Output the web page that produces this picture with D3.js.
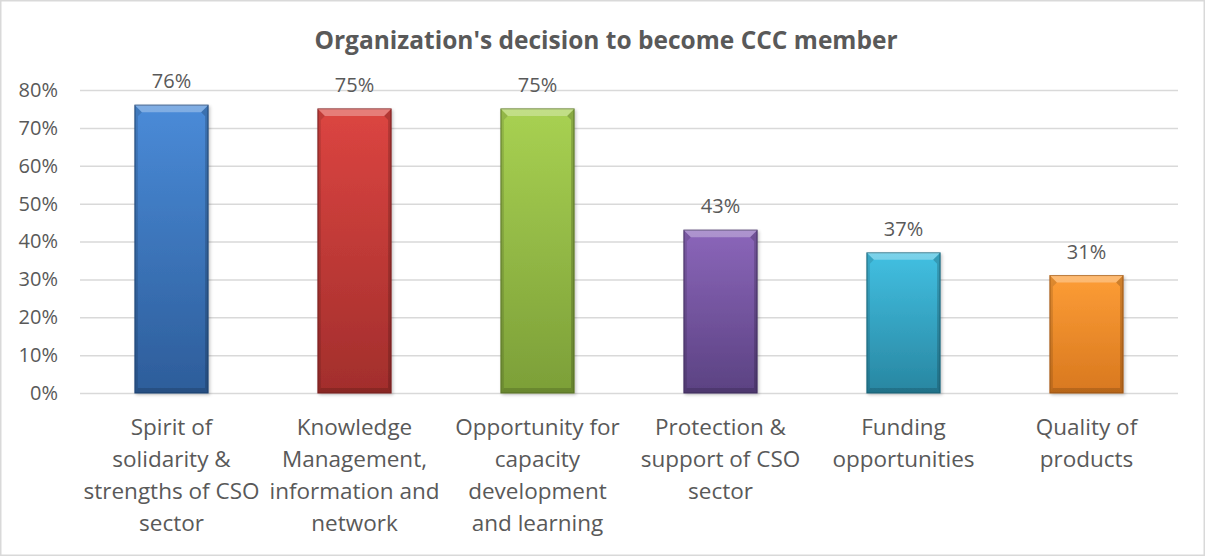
<!DOCTYPE html>
<html>
<head>
<meta charset="utf-8">
<script src="https://cdn.jsdelivr.net/npm/d3@7"></script>
<style>
  html, body { margin: 0; padding: 0; background: #ffffff; }
  svg { display: block; font-family: "Open Sans", "Noto Sans", sans-serif; }
</style>
</head>
<body>
<svg id="chart" width="1205" height="556"></svg>
<script>
// Reasons given for joining CCC (share of organizations)
const categories = [
  "Spirit of\nsolidarity &\nstrengths of CSO\nsector",
  "Knowledge\nManagement,\ninformation and\nnetwork",
  "Opportunity for\ncapacity\ndevelopment\nand learning",
  "Protection &\nsupport of CSO\nsector",
  "Funding\nopportunities",
  "Quality of\nproducts"
];
const values = [0.76, 0.75, 0.75, 0.43, 0.37, 0.31];
const yTicks = [0, 0.1, 0.2, 0.3, 0.4, 0.5, 0.6, 0.7, 0.8];
const titleText = "Organization's decision to become CCC member";

// One fill per bar: [top, bottom]
const palette = [
  ["#4a8bd8", "#2d5d9a"],
  ["#dc4541", "#a22e2c"],
  ["#a8d152", "#7c9f38"],
  ["#8b66ba", "#5b4282"],
  ["#42c0e2", "#2886a1"],
  ["#fd9d36", "#d8781f"]
];

const W = 1205, H = 556;
const plot = { left: 80, right: 1178, top: 90, bottom: 393 };
const textColor = "#595959";
const gridColor = "#d9d9d9";

const svg = d3.select("#chart");
const defs = svg.append("defs");

// Chart frame
svg.append("rect")
  .attr("x", 0.75).attr("y", 0.75)
  .attr("width", W - 1.5).attr("height", H - 1.5)
  .attr("fill", "#ffffff")
  .attr("stroke", gridColor).attr("stroke-width", 1.5);

// Title
svg.append("text")
  .attr("x", 606).attr("y", 49)
  .attr("text-anchor", "middle")
  .attr("font-size", 24.5).attr("font-weight", 700)
  .attr("fill", textColor)
  .text(titleText);

const x = d3.scaleBand()
  .domain(d3.range(categories.length))
  .range([plot.left, plot.right])
  .paddingInner(0.6)
  .paddingOuter(0.3);

const y = d3.scaleLinear()
  .domain([0, 0.8])
  .range([plot.bottom, plot.top]);

// Value axis with gridlines
const yAxis = svg.append("g")
  .attr("transform", `translate(${plot.left},0)`)
  .call(d3.axisLeft(y)
    .tickValues(yTicks)
    .tickSize(-(plot.right - plot.left))
    .tickPadding(22)
    .tickFormat(d3.format(".0%")));
yAxis.select(".domain").remove();
yAxis.selectAll(".tick line")
  .attr("stroke", gridColor).attr("stroke-width", 1.5);
yAxis.selectAll(".tick text")
  .attr("fill", textColor)
  .attr("font-size", 20)
  .attr("font-family", "'Open Sans', 'Noto Sans', sans-serif");

// Gradients for bar faces
palette.forEach((c, i) => {
  const g = defs.append("linearGradient")
    .attr("id", "face" + i)
    .attr("x1", 0).attr("y1", 0).attr("x2", 0).attr("y2", 1);
  g.append("stop").attr("offset", "0%").attr("stop-color", c[0]);
  g.append("stop").attr("offset", "100%").attr("stop-color", c[1]);
});

// Soft shadow behind bars
const shadow = defs.append("filter").attr("id", "barShadow")
  .attr("x", "-20%").attr("y", "-10%").attr("width", "140%").attr("height", "120%");
shadow.append("feDropShadow")
  .attr("dx", 1.5).attr("dy", 1.5).attr("stdDeviation", 1.5)
  .attr("flood-color", "#000000").attr("flood-opacity", 0.22);

const bars = svg.append("g").selectAll("g.bar")
  .data(values)
  .join("g")
  .attr("class", "bar");

bars.each(function(v, i) {
  const g = d3.select(this);
  const bx = x(i), bw = x.bandwidth();
  const by = y(v), bh = y(0) - y(v);
  const tb = 7, sb = 3, bb = 5;

  g.append("rect")
    .attr("x", bx).attr("y", by).attr("width", bw).attr("height", bh)
    .attr("fill", `url(#face${i})`)
    .attr("stroke", d3.color(palette[i][1]).darker(0.6))
    .attr("stroke-width", 1)
    .attr("filter", "url(#barShadow)");

  // top bevel (lit)
  g.append("path")
    .attr("d", `M${bx},${by}L${bx + bw},${by}L${bx + bw - tb},${by + tb}L${bx + tb},${by + tb}Z`)
    .attr("fill", "#ffffff").attr("fill-opacity", 0.3);
  // left bevel
  g.append("path")
    .attr("d", `M${bx},${by}L${bx + tb},${by + tb}L${bx + sb},${by + tb + 4}L${bx + sb},${by + bh - bb}L${bx},${by + bh}Z`)
    .attr("fill", "#000000").attr("fill-opacity", 0.12);
  // right bevel
  g.append("path")
    .attr("d", `M${bx + bw},${by}L${bx + bw - tb},${by + tb}L${bx + bw - sb},${by + tb + 4}L${bx + bw - sb},${by + bh - bb}L${bx + bw},${by + bh}Z`)
    .attr("fill", "#000000").attr("fill-opacity", 0.18);
  // bottom bevel
  g.append("path")
    .attr("d", `M${bx},${by + bh}L${bx + sb},${by + bh - bb}L${bx + bw - sb},${by + bh - bb}L${bx + bw},${by + bh}Z`)
    .attr("fill", "#000000").attr("fill-opacity", 0.15);

  // value label
  g.append("text")
    .attr("x", bx + bw / 2).attr("y", by - 17)
    .attr("text-anchor", "middle")
    .attr("font-size", 20)
    .attr("fill", textColor)
    .text(d3.format(".0%")(v));
});

// Category labels
const catLabels = svg.append("g").selectAll("text")
  .data(categories)
  .join("text")
  .attr("x", (d, i) => x(i) + x.bandwidth() / 2)
  .attr("y", 435)
  .attr("text-anchor", "middle")
  .attr("font-size", 22.5)
  .attr("fill", textColor);
catLabels.each(function(d) {
  const t = d3.select(this);
  d.split("\n").forEach((line, k) => {
    t.append("tspan")
      .attr("x", t.attr("x"))
      .attr("dy", k === 0 ? 0 : 32)
      .text(line);
  });
});
</script>
</body>
</html>
